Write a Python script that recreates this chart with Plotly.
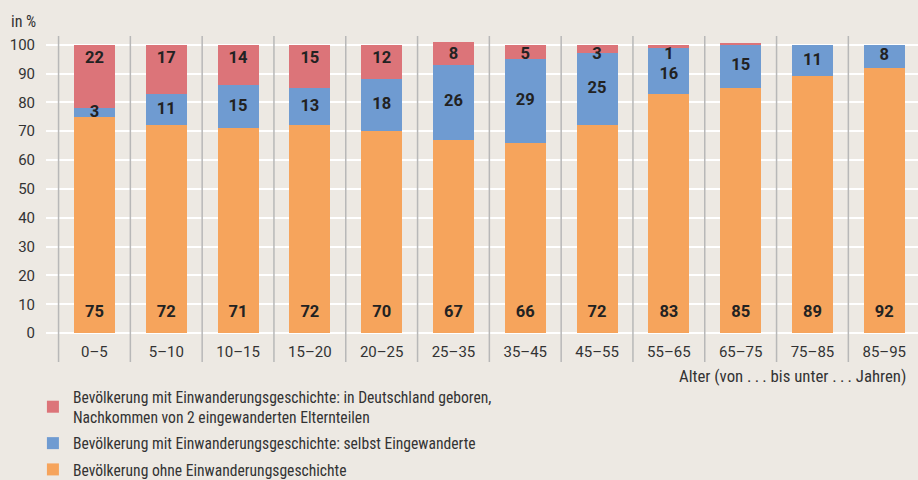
import plotly.graph_objects as go

categories = ["0–5", "5–10", "10–15", "15–20", "20–25", "25–35", "35–45",
              "45–55", "55–65", "65–75", "75–85", "85–95"]
ohne = [75, 72, 71, 72, 70, 67, 66, 72, 83, 85, 89, 92]
selbst = [3, 11, 15, 13, 18, 26, 29, 25, 16, 15, 11, 8]
geboren = [22, 17, 14, 15, 12, 8, 5, 3, 1, 0.5, 0, 0]
geboren_labels = ["22", "17", "14", "15", "12", "8", "5", "3", "1", "", "", ""]
y_ticks = list(range(0, 101, 10))

name_geboren = ("Bevölkerung mit Einwanderungsgeschichte: in Deutschland geboren,<br>"
                "Nachkommen von 2 eingewanderten Elternteilen")
name_selbst = "Bevölkerung mit Einwanderungsgeschichte: selbst Eingewanderte"
name_ohne = "Bevölkerung ohne Einwanderungsgeschichte"
x_title = "Alter (von .\u2009.\u2009. bis unter .\u2009.\u2009. Jahren)"

C_RED = "#dc7479"
C_BLUE = "#6f9bd1"
C_ORANGE = "#f6a45c"
BG = "#ede9e3"
TXT = "#333333"
NUM = "#222222"
FONT = "Roboto Condensed, Roboto, sans-serif"
NUMFONT = "Roboto, sans-serif"

x = list(range(len(categories)))
BW = 0.57

fig = go.Figure()
fig.add_trace(go.Bar(x=x, y=ohne, name=name_ohne, marker_color=C_ORANGE,
                     width=BW, marker_line_width=0, legendgroup="c", legendrank=3))
fig.add_trace(go.Bar(x=x, y=selbst, name=name_selbst, marker_color=C_BLUE,
                     width=BW, marker_line_width=0, legendgroup="b", legendrank=2))
fig.add_trace(go.Bar(x=x, y=geboren, name=name_geboren, marker_color=C_RED,
                     width=BW, marker_line_width=0, legendgroup="a", legendrank=1))

# label positions derived from data
red_y = [95.0 if g >= 10 else 96.4 for g in geboren]
blue_y = []
for o, s, ry, lab in zip(ohne, selbst, red_y, geboren_labels):
    by = o + s / 2
    if lab and ry - by < 6.8:
        by = ry - 6.8
    blue_y.append(by)
orange_y = [7.0] * len(x)

numfont = dict(family=NUMFONT, size=16.5, color=NUM)


def bold(vals):
    return [f"<b>{v}</b>" if str(v) else "" for v in vals]


fig.add_trace(go.Scatter(x=x, y=orange_y, mode="text", text=bold(ohne),
                         textfont=numfont, showlegend=False, hoverinfo="skip",
                         cliponaxis=False))
fig.add_trace(go.Scatter(x=x, y=blue_y, mode="text", text=bold(selbst),
                         textfont=numfont, showlegend=False, hoverinfo="skip",
                         cliponaxis=False))
fig.add_trace(go.Scatter(x=x, y=red_y, mode="text", text=bold(geboren_labels),
                         textfont=numfont, showlegend=False, hoverinfo="skip",
                         cliponaxis=False))

# vertical category separators
shapes = []
for i in range(len(categories)):
    shapes.append(dict(type="line", xref="x", yref="y", x0=i - 0.5, x1=i - 0.5,
                       y0=-10, y1=103, line=dict(color="#b8b8b8", width=1.5),
                       layer="between"))

fig.update_layout(
    width=918, height=480,
    margin=dict(l=46, r=0, t=36, b=118, autoexpand=False),
    paper_bgcolor=BG, plot_bgcolor=BG,
    barmode="stack", bargap=0,
    font=dict(family=FONT, size=16, color=TXT),
    shapes=shapes,
    showlegend=True,
    legend=dict(orientation="v", x=-0.015, y=-0.055, xanchor="left", yanchor="top",
                traceorder="grouped", tracegroupgap=3,
                font=dict(family=FONT, size=15.6, color=TXT),
                bgcolor="rgba(0,0,0,0)", itemclick=False, itemdoubleclick=False),
    xaxis=dict(range=[-0.675, 11.47], tickvals=x, ticktext=categories,
               showgrid=False, zeroline=False, showline=False,
               anchor="free", position=10 / 113,
               ticks="outside", ticklen=5, tickcolor="rgba(0,0,0,0)",
               tickfont=dict(family=NUMFONT, size=15, color=TXT)),
    yaxis=dict(range=[-10, 103], tickvals=y_ticks,
               showgrid=True, gridcolor="#ffffff", gridwidth=2,
               zeroline=False, showline=False,
               ticks="outside", ticklen=7, tickcolor="rgba(0,0,0,0)",
               tickfont=dict(family=NUMFONT, size=15, color=TXT)),
    annotations=[
        dict(text="in %", xref="paper", yref="paper", x=-0.042, y=1.046,
             xanchor="left", yanchor="middle", showarrow=False,
             font=dict(family=FONT, size=16, color=TXT)),
        dict(text=x_title, xref="paper", yref="paper",
             x=0.989, y=-0.043, xanchor="right", yanchor="middle", showarrow=False,
             font=dict(family=FONT, size=16.8, color=TXT)),
    ],
)

fig.write_html("out.html", config={"displayModeBar": False},
               post_script="document.body.style.margin='0';document.body.style.overflow='hidden';")
